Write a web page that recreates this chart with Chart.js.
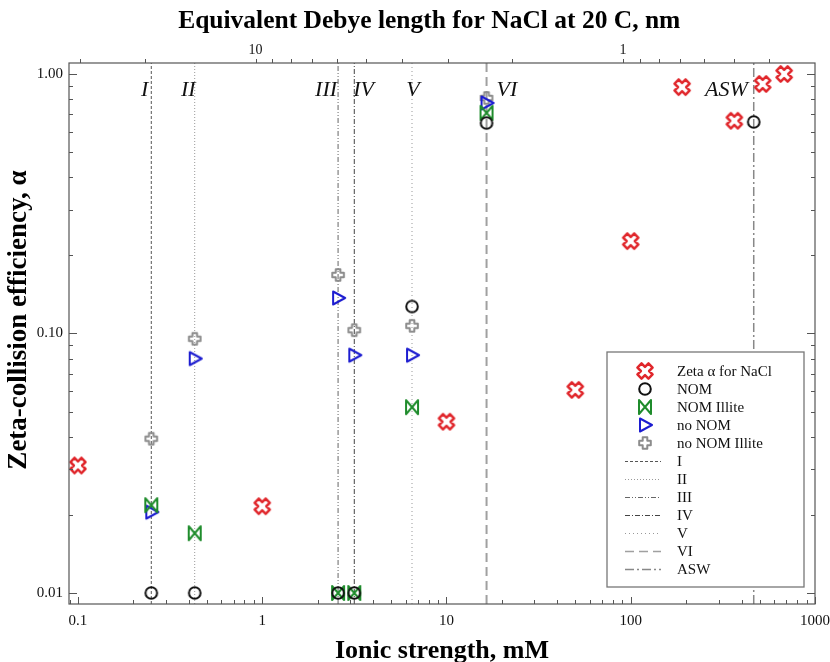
<!DOCTYPE html>
<html>
<head>
<meta charset="utf-8">
<script src="https://cdn.jsdelivr.net/npm/chart.js@4.4.1/dist/chart.umd.min.js"></script>
<style>
  body { margin: 0; background: #fff; }
  canvas { display: block; }
</style>
</head>
<body>
<canvas id="debyeChart" width="830" height="662"></canvas>
<script>
// reference solutions, ionic strength in mM
const refNames = ["I", "II", "III", "IV", "V", "VI", "ASW"];
const refIonic = [0.25, 0.43, 2.58, 3.16, 6.5, 16.5, 465];

const zetaIonic = [0.1, 1, 10, 50, 100, 190, 365, 520, 680];
const zetaAlpha = [0.031, 0.0216, 0.0457, 0.0606, 0.227, 0.89, 0.66, 0.915, 1.0];

const nomIonic = [0.25, 0.43, 2.58, 3.16, 6.5, 16.5, 465];
const nomAlpha = [0.01, 0.01, 0.01, 0.01, 0.127, 0.647, 0.653];

const nomIlliteIonic = [0.25, 0.43, 2.58, 3.16, 6.5, 16.5];
const nomIlliteAlpha = [0.0218, 0.017, 0.01, 0.01, 0.052, 0.708];

const noNomIonic = [0.25, 0.43, 2.58, 3.16, 6.5, 16.5];
const noNomAlpha = [0.0205, 0.08, 0.137, 0.0825, 0.0825, 0.773];

const noNomIlliteIonic = [0.25, 0.43, 2.58, 3.16, 6.5, 16.5];
const noNomIlliteAlpha = [0.0393, 0.0954, 0.168, 0.103, 0.107, 0.808];

const xTicks = [0.1, 1, 10, 100, 1000];
const yTicks = [0.01, 0.1, 1];
const debyeTicks = [30, 20, 10, 9, 8, 7, 6, 5, 4, 3, 2, 1, 0.9, 0.8, 0.7, 0.6, 0.5, 0.4];
const debyeLabels = [10, 1];

// axis limits, and Debye length (nm) = debyeK / sqrt(I in mM)
const xMin = 0.0894, xMax = 1000;
const yMin = 0.00907, yMax = 1.102;
const debyeK = 9.63;

const serif = "'Liberation Serif', 'Times New Roman', serif";

const refStyles = [
  { color: "#555", dash: [3, 2], width: 1 },
  { color: "#999", dash: [1, 2], width: 1 },
  { color: "#666", dash: [5, 2, 1, 2, 1, 2], width: 1 },
  { color: "#444", dash: [5, 2, 1, 2], width: 1 },
  { color: "#999", dash: [1, 3], width: 1 },
  { color: "#a0a0a0", dash: [9, 5], width: 2 },
  { color: "#888", dash: [9, 3, 2, 3], width: 1.5 }
];
const refLabelPos = [
  { align: "right", dx: -3 },
  { align: "right", dx: 1 },
  { align: "right", dx: -1 },
  { align: "left", dx: -1 },
  { align: "center", dx: 1 },
  { align: "left", dx: 10 },
  { align: "right", dx: -6 }
];

function marker(draw) {
  const c = document.createElement("canvas");
  c.width = 20;
  c.height = 20;
  const g = c.getContext("2d");
  g.translate(10, 10);
  g.lineJoin = "round";
  draw(g);
  return c;
}

function plusPath(g, len, arm) {
  g.beginPath();
  g.moveTo(-arm, -len); g.lineTo(arm, -len); g.lineTo(arm, -arm); g.lineTo(len, -arm);
  g.lineTo(len, arm); g.lineTo(arm, arm); g.lineTo(arm, len); g.lineTo(-arm, len);
  g.lineTo(-arm, arm); g.lineTo(-len, arm); g.lineTo(-len, -arm); g.lineTo(-arm, -arm);
  g.closePath();
}

const redCross = marker(g => {
  g.rotate(Math.PI / 4);
  plusPath(g, 7.8, 2.9);
  g.strokeStyle = "#e0262b";
  g.lineWidth = 2.5;
  g.stroke();
});
const blackCircle = marker(g => {
  g.beginPath();
  g.arc(0, 0, 5.8, 0, Math.PI * 2);
  g.strokeStyle = "#111";
  g.lineWidth = 2;
  g.stroke();
});
const greenBowtie = marker(g => {
  g.beginPath();
  g.moveTo(-6, -7); g.lineTo(6, 7); g.lineTo(6, -7); g.lineTo(-6, 7);
  g.closePath();
  g.strokeStyle = "#1f8c2c";
  g.lineWidth = 2;
  g.stroke();
});
const blueTriangle = marker(g => {
  g.beginPath();
  g.moveTo(-5, -6.5); g.lineTo(7, 0); g.lineTo(-5, 6.5);
  g.closePath();
  g.strokeStyle = "#1c1cd0";
  g.lineWidth = 2;
  g.stroke();
});
const grayPlus = marker(g => {
  plusPath(g, 5.8, 2.3);
  g.strokeStyle = "#8c8c8c";
  g.lineWidth = 2;
  g.stroke();
});

function pts(xs, ys) {
  return xs.map((x, i) => ({ x: x, y: ys[i] }));
}

function markerSet(label, xs, ys, style) {
  return { label: label, data: pts(xs, ys), pointStyle: style, pointRadius: 7, showLine: false };
}

const datasets = [
  markerSet("Zeta \u03b1 for NaCl", zetaIonic, zetaAlpha, redCross),
  markerSet("NOM", nomIonic, nomAlpha, blackCircle),
  markerSet("NOM Illite", nomIlliteIonic, nomIlliteAlpha, greenBowtie),
  markerSet("no NOM", noNomIonic, noNomAlpha, blueTriangle),
  markerSet("no NOM Illite", noNomIlliteIonic, noNomIlliteAlpha, grayPlus)
];
refNames.forEach((name, i) => {
  datasets.push({
    label: name,
    data: [{ x: refIonic[i], y: yMin }, { x: refIonic[i], y: yMax }],
    showLine: true,
    pointRadius: 0,
    borderColor: refStyles[i].color,
    borderDash: refStyles[i].dash,
    borderWidth: refStyles[i].width,
    isRef: true
  });
});

function logSteps(lo, hi) {
  const out = [];
  for (let d = 1e-3; d <= 1e4; d *= 10) {
    for (let m = 1; m <= 9; m++) {
      const v = +(m * d).toPrecision(3);
      if (v >= lo && v <= hi) out.push({ v: v, major: m === 1 });
    }
  }
  return out;
}

// keep the plot box where the reference has it, whatever the label widths
function fixBox(size, key) {
  return s => {
    s[key] = size;
    s.paddingLeft = 0;
    s.paddingRight = 0;
    s.paddingTop = 0;
    s.paddingBottom = 0;
  };
}

// plot frame and tick marks
const framePlugin = {
  id: "frame",
  afterDatasetsDraw(chart) {
    const ctx = chart.ctx;
    const a = chart.chartArea;
    const sx = chart.scales.x, sy = chart.scales.y, st = chart.scales.x2;
    ctx.save();
    ctx.strokeStyle = "#555";
    ctx.lineWidth = 1.2;
    ctx.strokeRect(a.left, a.top, a.right - a.left, a.bottom - a.top);
    ctx.lineWidth = 1;
    ctx.beginPath();
    logSteps(xMin, xMax).forEach(t => {
      const px = Math.round(sx.getPixelForValue(t.v)) + 0.5;
      ctx.moveTo(px, a.bottom);
      ctx.lineTo(px, a.bottom - (t.major ? 7 : 4));
    });
    logSteps(yMin, yMax).forEach(t => {
      const py = Math.round(sy.getPixelForValue(t.v)) + 0.5;
      const len = t.major ? 8 : 4;
      ctx.moveTo(a.left, py);
      ctx.lineTo(a.left + len, py);
      ctx.moveTo(a.right, py);
      ctx.lineTo(a.right - len, py);
    });
    debyeTicks.forEach(v => {
      const px = Math.round(st.getPixelForValue(v)) + 0.5;
      ctx.moveTo(px, a.top);
      ctx.lineTo(px, a.top - 4);
    });
    ctx.stroke();
    ctx.restore();
  }
};

// italic names next to the reference lines
const refLabelPlugin = {
  id: "refLabels",
  afterDatasetsDraw(chart) {
    const ctx = chart.ctx;
    const a = chart.chartArea;
    ctx.save();
    ctx.font = "italic 22px " + serif;
    ctx.fillStyle = "#111";
    ctx.textBaseline = "alphabetic";
    refNames.forEach((name, i) => {
      const px = chart.scales.x.getPixelForValue(refIonic[i]);
      ctx.textAlign = refLabelPos[i].align;
      ctx.fillText(name, px + refLabelPos[i].dx, a.top + 33);
    });
    ctx.restore();
  }
};

// boxed legend inside the lower right of the plot
const legendBox = { width: 197, height: 235, right: 11, bottom: 17, firstRow: 19, rowHeight: 18 };
const boxLegendPlugin = {
  id: "boxLegend",
  afterDraw(chart) {
    const ctx = chart.ctx;
    const a = chart.chartArea;
    const left = a.right - legendBox.right - legendBox.width;
    const top = a.bottom - legendBox.bottom - legendBox.height;
    ctx.save();
    ctx.fillStyle = "#fff";
    ctx.fillRect(left, top, legendBox.width, legendBox.height);
    ctx.strokeStyle = "#777";
    ctx.lineWidth = 1.3;
    ctx.strokeRect(left, top, legendBox.width, legendBox.height);
    ctx.font = "15px " + serif;
    ctx.textBaseline = "middle";
    ctx.textAlign = "left";
    chart.data.datasets.forEach((ds, i) => {
      const y = top + legendBox.firstRow + i * legendBox.rowHeight;
      if (ds.isRef) {
        ctx.save();
        ctx.strokeStyle = ds.borderColor;
        ctx.lineWidth = Math.min(ds.borderWidth, 1.5);
        ctx.setLineDash(ds.borderDash);
        ctx.beginPath();
        ctx.moveTo(left + 18, y + 0.5);
        ctx.lineTo(left + 54, y + 0.5);
        ctx.stroke();
        ctx.restore();
      } else {
        const img = ds.pointStyle;
        ctx.drawImage(img, left + 38 - img.width / 2, y - img.height / 2);
      }
      ctx.fillStyle = "#111";
      ctx.fillText(ds.label, left + 70, y + 1);
    });
    ctx.restore();
  }
};

new Chart(document.getElementById("debyeChart"), {
  type: "scatter",
  data: { datasets: datasets },
  options: {
    responsive: false,
    animation: false,
    devicePixelRatio: 1,
    layout: { padding: { right: 15 } },
    plugins: {
      legend: { display: false },
      tooltip: { enabled: false }
    },
    scales: {
      x: {
        type: "logarithmic",
        position: "bottom",
        min: xMin,
        max: xMax,
        grid: { display: false, drawTicks: false },
        border: { display: false },
        afterBuildTicks: s => { s.ticks = xTicks.map(v => ({ value: v })); },
        afterFit: fixBox(58, "height"),
        ticks: {
          callback: v => String(v),
          autoSkip: false,
          maxRotation: 0,
          padding: 8,
          color: "#111",
          font: { family: serif, size: 15 }
        },
        title: {
          display: true,
          text: "Ionic strength, mM",
          color: "#000",
          padding: { top: 0, bottom: -5 },
          font: { family: serif, size: 26, weight: "bold" }
        }
      },
      x2: {
        type: "logarithmic",
        position: "top",
        reverse: true,
        min: debyeK / Math.sqrt(xMax),
        max: debyeK / Math.sqrt(xMin),
        grid: { display: false, drawTicks: false },
        border: { display: false },
        afterBuildTicks: s => { s.ticks = debyeTicks.map(v => ({ value: v })); },
        afterFit: fixBox(63, "height"),
        ticks: {
          callback: v => debyeLabels.includes(v) ? String(v) : "",
          autoSkip: false,
          maxRotation: 0,
          padding: 4,
          color: "#111",
          font: { family: serif, size: 14 }
        },
        title: {
          display: true,
          text: "Equivalent Debye length for NaCl at 20 C, nm\u2002\u2002",
          color: "#000",
          padding: { top: 6, bottom: 0 },
          font: { family: serif, size: 25.5, weight: "bold" }
        }
      },
      y: {
        type: "logarithmic",
        min: yMin,
        max: yMax,
        grid: { display: false, drawTicks: false },
        border: { display: false },
        afterBuildTicks: s => { s.ticks = yTicks.map(v => ({ value: v })); },
        afterFit: fixBox(69, "width"),
        ticks: {
          callback: v => Number(v).toFixed(2),
          autoSkip: false,
          padding: 6,
          color: "#111",
          font: { family: serif, size: 15 }
        },
        title: {
          display: true,
          text: "\u2002\u2002Zeta-collision efficiency, \u03b1",
          color: "#000",
          padding: { top: 3, bottom: 0 },
          font: { family: serif, size: 27, weight: "bold" }
        }
      }
    }
  },
  plugins: [framePlugin, refLabelPlugin, boxLegendPlugin]
});
</script>
</body>
</html>
